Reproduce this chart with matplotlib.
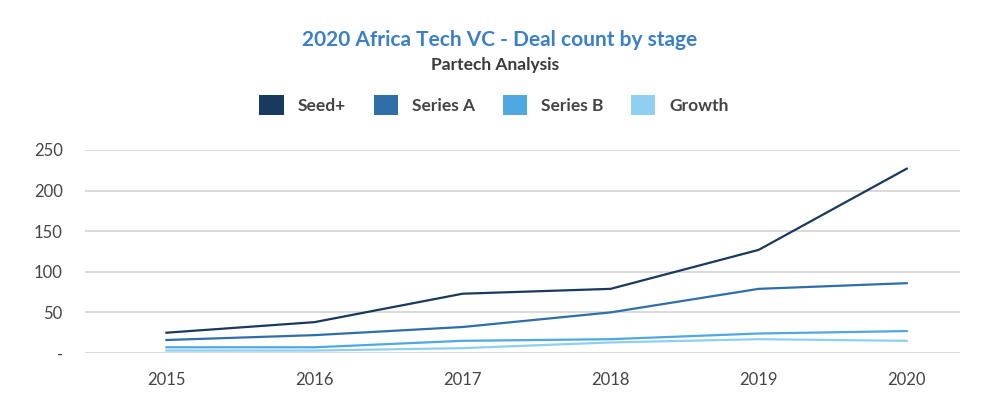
import matplotlib.pyplot as plt
from matplotlib.patches import Patch
from matplotlib.ticker import FuncFormatter

years = [2015, 2016, 2017, 2018, 2019, 2020]
seed_plus = [25, 38, 73, 79, 127, 227]
series_a = [16, 22, 32, 50, 79, 86]
series_b = [7, 7, 15, 17, 24, 27]
growth = [3, 3, 6, 13, 17, 15]

labels = ["Seed+", "Series A", "Series B", "Growth"]
colors = ["#173a5e", "#2f6ea9", "#4fa8e2", "#8fcff2"]

plt.rcParams['font.family'] = ['Lato', 'DejaVu Sans']

fig = plt.figure(figsize=(10, 4.2), dpi=100)
ax = fig.add_axes([0.085, 1 - 353 / 420, 0.875, 203 / 420])

for vals, c in zip([seed_plus, series_a, series_b, growth], colors):
    ax.plot(years, vals, color=c, linewidth=1.6, clip_on=False, zorder=3)

ax.set_xlim(2014.45, 2020.36)
ax.set_ylim(0, 250)
ax.set_yticks([0, 50, 100, 150, 200, 250])
ax.yaxis.set_major_formatter(FuncFormatter(lambda v, p: "-" if v == 0 else f"{int(v)}"))
ax.set_xticks(years)

ax.grid(axis="y", color="#d3d3d3", linewidth=1.2)
ax.set_axisbelow(True)
for s in ax.spines.values():
    s.set_visible(False)
ax.tick_params(length=0, labelsize=12, colors="#444444")
ax.tick_params(axis="y", pad=16)
ax.tick_params(axis="x", pad=14)

fig.text(0.5, 1 - 40 / 420, "2020 Africa Tech VC - Deal count by stage",
         ha="center", va="center", fontsize=15, fontweight="bold", color="#3a7fc8")
fig.text(0.495, 1 - 65 / 420, "Partech Analysis",
         ha="center", va="center", fontsize=12.5, fontweight="bold", color="#3a3a3a")

handles = [Patch(facecolor=c, edgecolor="none") for c in colors]
fig.legend(handles, labels, loc="center", bbox_to_anchor=(0.494, 1 - 105 / 420),
           ncol=4, frameon=False, handlelength=1.4, handleheight=1.4,
           columnspacing=1.6, handletextpad=0.8, labelcolor="#444444",
           prop={'weight': 'bold', 'size': 12.5})

fig.savefig("out.png", dpi=100)
